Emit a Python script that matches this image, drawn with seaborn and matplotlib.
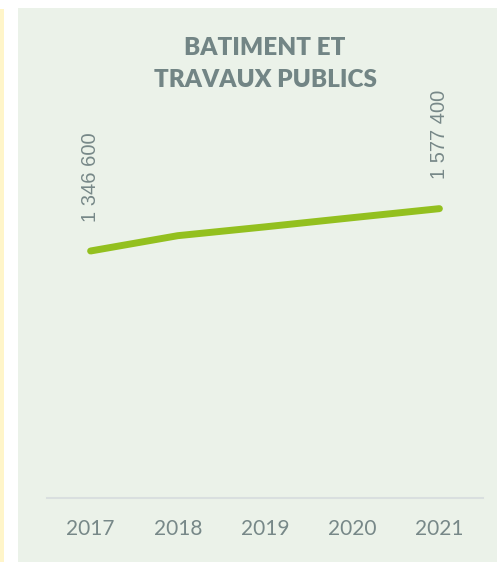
import matplotlib
matplotlib.use("Agg")
import matplotlib.pyplot as plt
from matplotlib.patches import Rectangle
import seaborn as sns
import pandas as pd

# Employment in construction and public works, by year
years = ["2017", "2018", "2019", "2020", "2021"]
values = [1346600, 1430000, 1478000, 1528000, 1577400]
labelled_years = ["2017", "2021"]
title = "BATIMENT ET\nTRAVAUX PUBLICS"

df = pd.DataFrame({"year": years, "value": values})

sns.set_theme(style="white")
plt.rcParams["font.family"] = ["Lato", "DejaVu Sans"]

W, H = 497, 562
fig = plt.figure(figsize=(W / 100, H / 100), dpi=100)
fig.patch.set_facecolor("white")

# panel background and left accent strip
fig.patches.append(Rectangle((18 / W, 0), 1 - 18 / W, 1 - 8 / H,
                             transform=fig.transFigure, facecolor="#EBF2E9",
                             edgecolor="none", zorder=-10))
fig.patches.append(Rectangle((0, 0), 4 / W, 1 - 9 / H,
                             transform=fig.transFigure, facecolor="#FFF5C9",
                             edgecolor="none", zorder=-10))

ax = fig.add_axes([47 / W, (H - 498) / H, 436 / W, 458.6 / H])
ax.set_facecolor("none")

sns.lineplot(data=df, x="year", y="value", ax=ax, color="#93C01F",
             linewidth=5, solid_capstyle="round", sort=False)

ax.set_xlim(-0.5, len(years) - 0.5)
ax.set_ylim(0, 2500000)
ax.set_xlabel("")
ax.set_ylabel("")
ax.set_yticks([])
for side in ["top", "left", "right"]:
    ax.spines[side].set_visible(False)
ax.spines["bottom"].set_color("#D9DFDF")
ax.spines["bottom"].set_linewidth(1.5)
ax.tick_params(axis="x", length=0, pad=15, labelsize=15, labelcolor="#778888")

for i, (yr, v) in enumerate(zip(years, values)):
    if yr in labelled_years:
        label = f"{v:,}".replace(",", " ")
        ax.annotate(label, (i, v), xytext=(0, 21), textcoords="offset points",
                    rotation=90, ha="center", va="bottom", fontsize=14.5,
                    color="#778888", family=["Liberation Sans", "DejaVu Sans"])

fig.text(265 / W, 1 - 64 / H, title, ha="center", va="center",
         fontsize=17.5, fontweight="heavy", color="#728585", linespacing=1.6)

fig.savefig("out.png", dpi=100, facecolor=fig.get_facecolor())
